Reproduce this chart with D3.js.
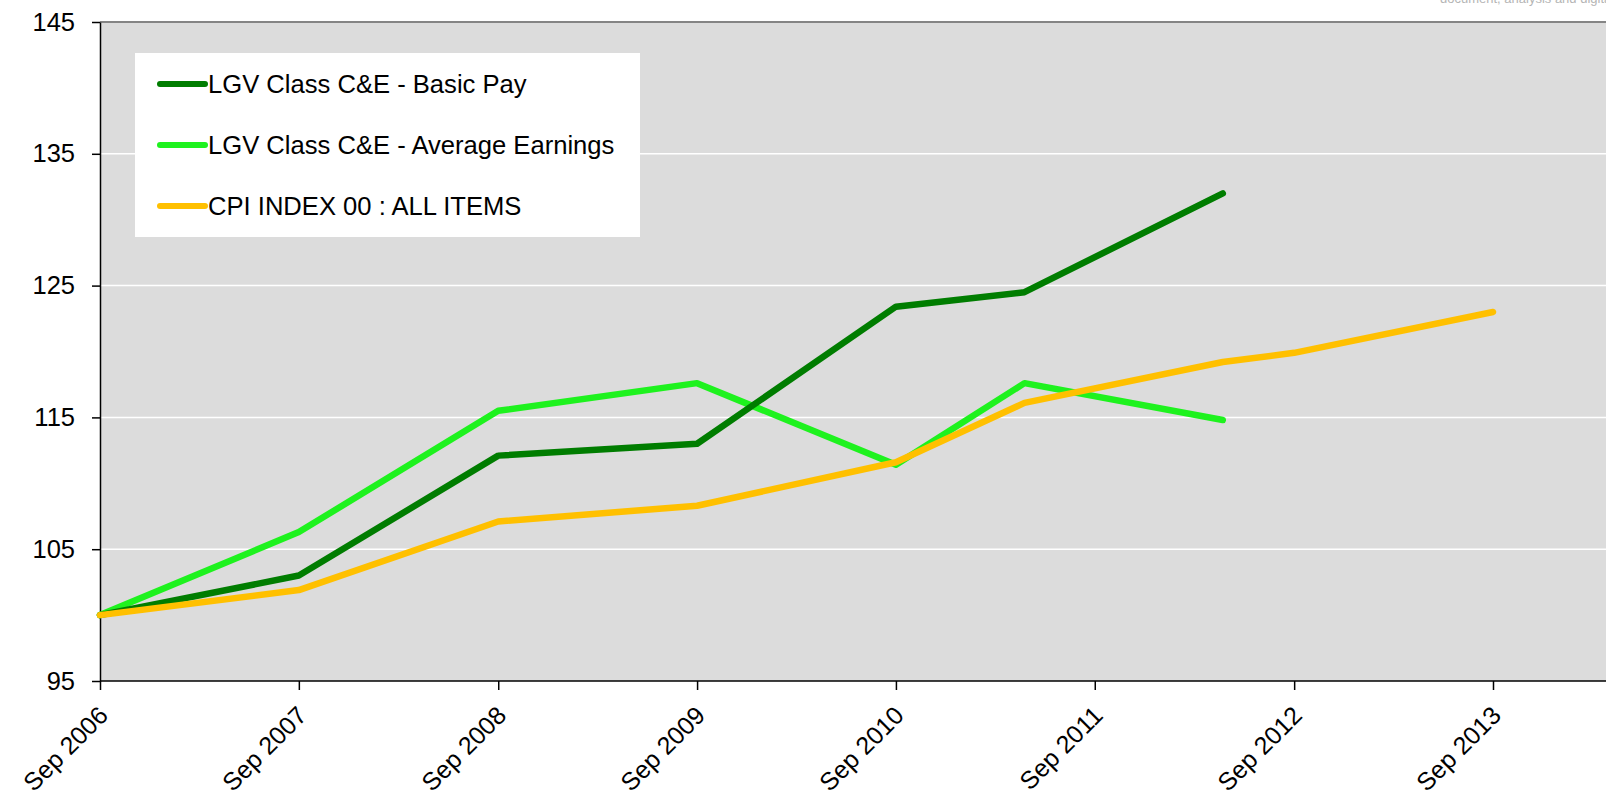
<!DOCTYPE html>
<html>
<head>
<meta charset="utf-8">
<script src="https://cdn.jsdelivr.net/npm/d3@7"></script>
<style>
  html, body { margin: 0; padding: 0; background: #fff; }
  svg { display: block; font-family: "Liberation Sans", Arial, sans-serif; }
</style>
</head>
<body>
<div id="chart"></div>
<script>
// dates of the observations (ASHE points fall in April)
var dates = ["2006-09-01", "2007-09-01", "2008-09-01", "2009-09-01", "2010-09-01", "2011-04-25", "2012-04-23", "2012-09-01", "2013-09-01"];
var basicPay = [100, 103.0, 112.1, 113.0, 123.4, 124.5, 132.0];
var avgEarnings = [100, 106.3, 115.5, 117.6, 111.4, 117.6, 114.8];
var cpi = [100, 101.9, 107.1, 108.3, 111.6, 116.1, 119.2, 119.9, 123.0];
var seriesNames = ["LGV Class C&E - Basic Pay", "LGV Class C&E - Average Earnings", "CPI INDEX 00 : ALL ITEMS"];
var seriesColors = ["#007d00", "#1ef21e", "#ffc000"];
var yTicks = [95, 105, 115, 125, 135, 145];
var xTicks = ["2006-09-01", "2007-09-01", "2008-09-01", "2009-09-01", "2010-09-01", "2011-09-01", "2012-09-01", "2013-09-01"];

var parse = d3.timeParse("%Y-%m-%d");
var fmt = d3.timeFormat("%b %Y");

var W = 1606, H = 798;
var plotLeft = 100, plotTop = 22, plotBottom = 681;

var svg = d3.select("#chart").append("svg")
  .attr("width", W)
  .attr("height", H);

var x = d3.scaleTime()
  .domain([parse(xTicks[0]), parse(xTicks[xTicks.length - 1])])
  .range([plotLeft, 1493]);

var y = d3.scaleLinear()
  .domain([95, 145])
  .range([plotBottom, plotTop]);

// cut off header text at the very top
svg.append("text")
  .attr("x", 1440)
  .attr("y", 3)
  .attr("fill", "#b5b5b5")
  .style("font-size", "13px")
  .text("document, analysis and digital");

// plot area
svg.append("rect")
  .attr("x", plotLeft)
  .attr("y", plotTop)
  .attr("width", W - plotLeft)
  .attr("height", plotBottom - plotTop)
  .attr("fill", "#dcdcdc");

svg.append("line")
  .attr("x1", plotLeft).attr("x2", W)
  .attr("y1", plotTop).attr("y2", plotTop)
  .attr("stroke", "#858585")
  .attr("stroke-width", 2);

// white gridlines
svg.append("g")
  .selectAll("line")
  .data(yTicks.filter(function (d) { return d > 95 && d < 145; }))
  .enter()
  .append("line")
  .attr("x1", plotLeft).attr("x2", W)
  .attr("y1", function (d) { return y(d); })
  .attr("y2", function (d) { return y(d); })
  .attr("stroke", "#fff")
  .attr("stroke-width", 1.5);

// axes
var yAxis = svg.append("g")
  .attr("transform", "translate(" + plotLeft + ",0)")
  .call(d3.axisLeft(y).tickValues(yTicks).tickSize(8).tickPadding(17).tickSizeOuter(0));
yAxis.select(".domain").attr("stroke", "#000").attr("stroke-width", 1.5);
yAxis.selectAll(".tick line").attr("stroke", "#000").attr("stroke-width", 1.5);
yAxis.selectAll(".tick text")
  .attr("fill", "#000")
  .style("font-size", "25.5px")
  .style("font-family", "Liberation Sans, Arial, sans-serif");

var xAxis = svg.append("g")
  .attr("transform", "translate(0," + plotBottom + ")")
  .call(d3.axisBottom(x).tickValues(xTicks.map(parse)).tickFormat(fmt).tickSize(9).tickSizeOuter(0));
xAxis.select(".domain").attr("d", "M" + plotLeft + ",0H" + W).attr("stroke", "#000").attr("stroke-width", 1.5);
xAxis.selectAll(".tick line").attr("stroke", "#000").attr("stroke-width", 1.5);
xAxis.selectAll(".tick text")
  .attr("fill", "#000")
  .style("font-size", "25px")
  .style("font-family", "Liberation Sans, Arial, sans-serif")
  .attr("text-anchor", "end")
  .attr("dy", null)
  .attr("y", null)
  .attr("transform", "translate(9,36) rotate(-45)");

// lines
var line = d3.line()
  .x(function (d) { return x(d[0]); })
  .y(function (d) { return y(d[1]); });

function pairs(vals) {
  return vals.map(function (v, i) { return [parse(dates[i]), v]; });
}

var drawOrder = [[avgEarnings, 1], [basicPay, 0], [cpi, 2]];
drawOrder.forEach(function (s) {
  svg.append("path")
    .datum(pairs(s[0]))
    .attr("d", line)
    .attr("fill", "none")
    .attr("stroke", seriesColors[s[1]])
    .attr("stroke-width", 6.5)
    .attr("stroke-linecap", "round")
    .attr("stroke-linejoin", "round");
});

// legend
var legend = svg.append("g");
legend.append("rect")
  .attr("x", 135).attr("y", 53)
  .attr("width", 505).attr("height", 184)
  .attr("fill", "#fff");

var rows = legend.selectAll(".row")
  .data(seriesNames)
  .enter()
  .append("g")
  .attr("transform", function (d, i) { return "translate(0," + (84 + i * 61) + ")"; });

rows.append("line")
  .attr("x1", 160).attr("x2", 205)
  .attr("y1", 0).attr("y2", 0)
  .attr("stroke", function (d, i) { return seriesColors[i]; })
  .attr("stroke-width", 6)
  .attr("stroke-linecap", "round");

rows.append("text")
  .attr("x", 208)
  .attr("y", 0)
  .attr("dy", "0.35em")
  .style("font-size", "25.6px")
  .attr("fill", "#000")
  .text(function (d) { return d; });
</script>
</body>
</html>
